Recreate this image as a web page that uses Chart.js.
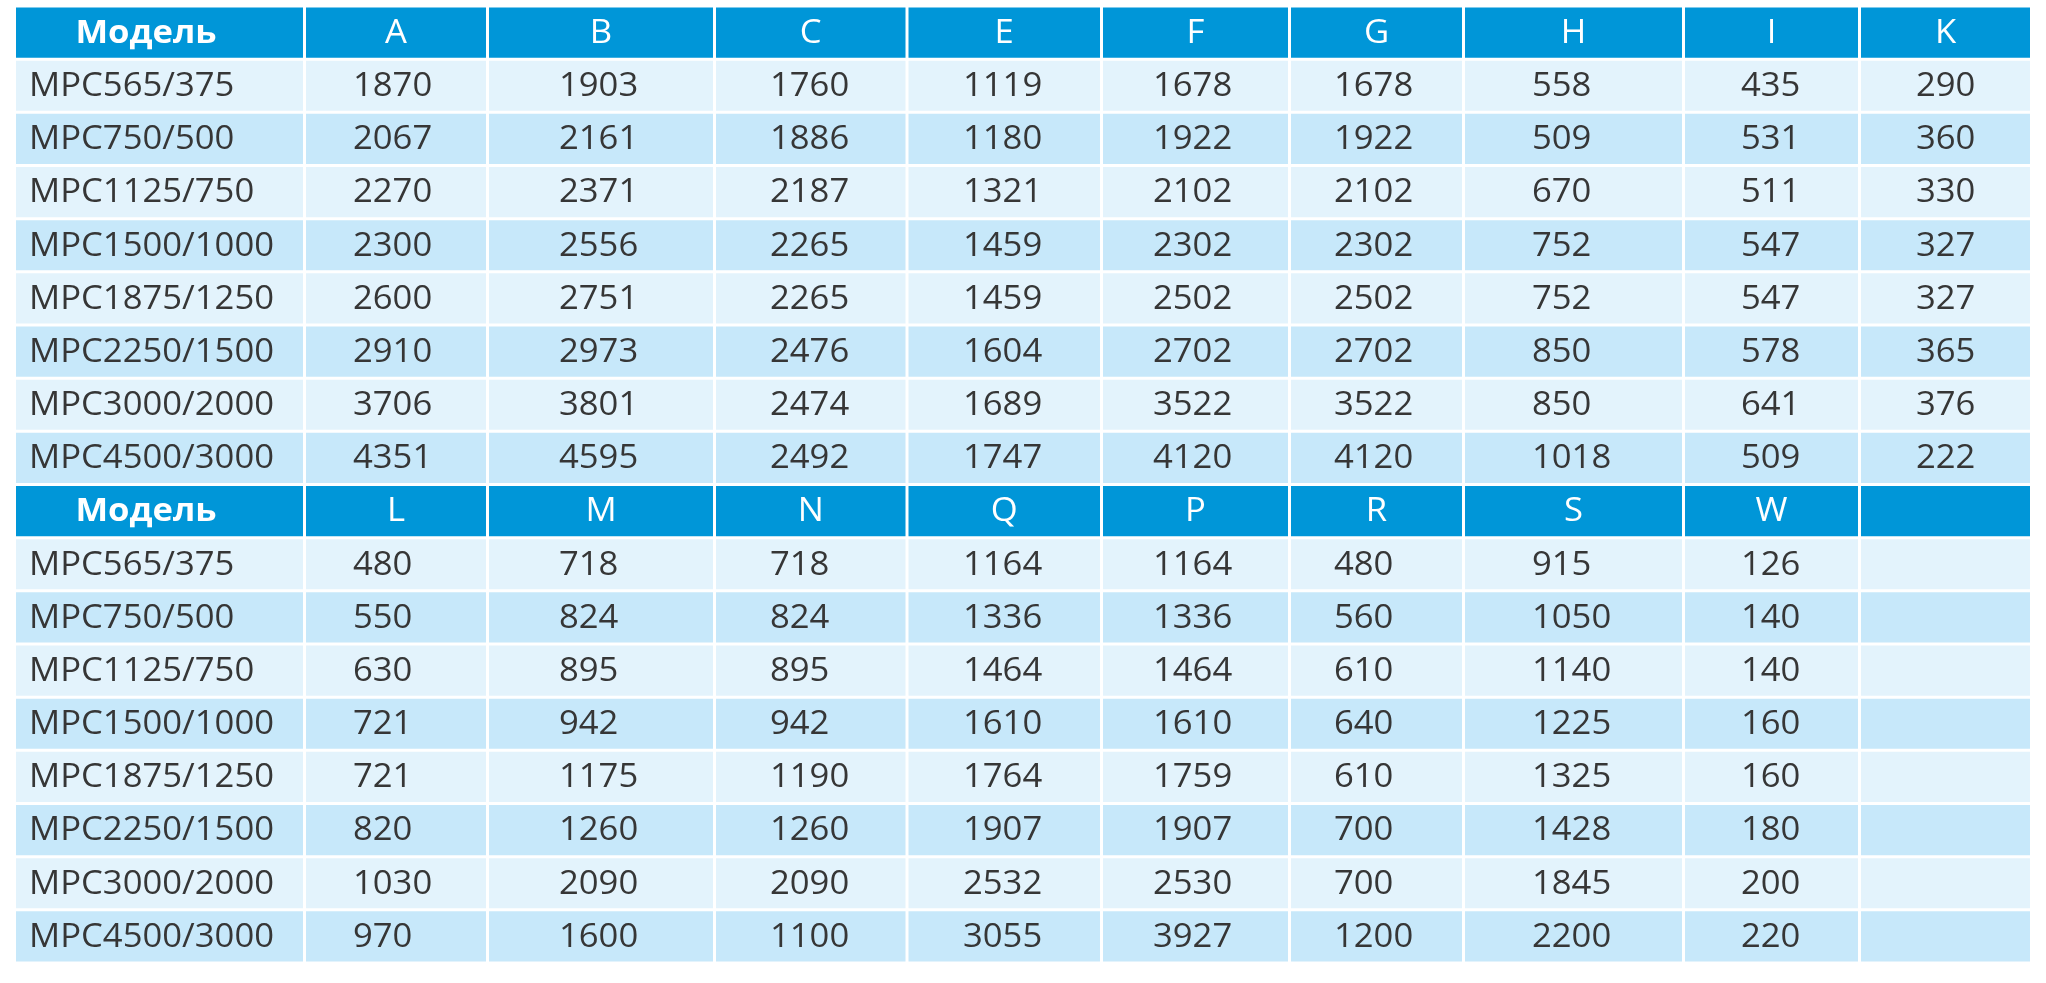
<!DOCTYPE html>
<html>
<head>
<meta charset="utf-8">
<title>MPC</title>
<script src="https://cdn.jsdelivr.net/npm/chart.js@4/dist/chart.umd.min.js"></script>
<style>
  html, body { margin: 0; padding: 0; background: #ffffff; }
  #wrap { width: 2046px; height: 983px; position: relative; }
</style>
</head>
<body>
<div id="wrap"><canvas id="table"></canvas></div>
<script>
// table data
const models = ["MPC565/375", "MPC750/500", "MPC1125/750", "MPC1500/1000",
                "MPC1875/1250", "MPC2250/1500", "MPC3000/2000", "MPC4500/3000"];
const headTitle = "Модель";
const heads1 = ["A", "B", "C", "E", "F", "G", "H", "I", "K"];
const heads2 = ["L", "M", "N", "Q", "P", "R", "S", "W", ""];

const colA = [1870, 2067, 2270, 2300, 2600, 2910, 3706, 4351];
const colB = [1903, 2161, 2371, 2556, 2751, 2973, 3801, 4595];
const colC = [1760, 1886, 2187, 2265, 2265, 2476, 2474, 2492];
const colE = [1119, 1180, 1321, 1459, 1459, 1604, 1689, 1747];
const colF = [1678, 1922, 2102, 2302, 2502, 2702, 3522, 4120];
const colG = [1678, 1922, 2102, 2302, 2502, 2702, 3522, 4120];
const colH = [558, 509, 670, 752, 752, 850, 850, 1018];
const colI = [435, 531, 511, 547, 547, 578, 641, 509];
const colK = [290, 360, 330, 327, 327, 365, 376, 222];

const colL = [480, 550, 630, 721, 721, 820, 1030, 970];
const colM = [718, 824, 895, 942, 1175, 1260, 2090, 1600];
const colN = [718, 824, 895, 942, 1190, 1260, 2090, 1100];
const colQ = [1164, 1336, 1464, 1610, 1764, 1907, 2532, 3055];
const colP = [1164, 1336, 1464, 1610, 1759, 1907, 2530, 3927];
const colR = [480, 560, 610, 640, 610, 700, 700, 1200];
const colS = [915, 1050, 1140, 1225, 1325, 1428, 1845, 2200];
const colW = [126, 140, 140, 160, 160, 180, 200, 220];
const colEmpty = [null, null, null, null, null, null, null, null];

const part1 = [colA, colB, colC, colE, colF, colG, colH, colI, colK];
const part2 = [colL, colM, colN, colQ, colP, colR, colS, colW, colEmpty];

// layout (x in canvas px, the x scale runs 0..2046)
const colEdges = [14.5, 304.5, 487.5, 714.5, 907, 1101.5, 1289.5, 1463.5, 1683.5, 1859.5, 2031.5];
const textLeft = [29, 353, 559, 770, 963, 1153, 1334, 1532, 1741, 1916];
const titleCenter = 146;
const gap = 1.5;
const fontPx = 33;
const stretchX = 1.05;

const headBlue = "#0096d8";
const rowLight = "#e3f3fc";
const rowDark = "#c7e8fa";
const textDark = "#363636";

// rows: header, 8 models, header, 8 models
const rowLabels = [headTitle, ...models, headTitle, ...models];
const rowColors = rowLabels.map((_, i) => {
    const r = i % 9;
    if (r === 0) return headBlue;
    return r % 2 === 1 ? rowLight : rowDark;
});

// cell texts per column
function cellTexts(c) {
    if (c === 0) return [headTitle, ...models, headTitle, ...models];
    const p1 = part1[c - 1], p2 = part2[c - 1];
    return [heads1[c - 1], ...p1.map(v => v == null ? "" : String(v)),
            heads2[c - 1], ...p2.map(v => v == null ? "" : String(v))];
}

const datasets = colEdges.slice(0, -1).map((x0, c) => ({
    label: c === 0 ? headTitle : heads1[c - 1],
    data: rowLabels.map(() => [x0 + gap, colEdges[c + 1] - gap]),
    backgroundColor: rowColors,
    borderWidth: 0,
    grouped: false,
    barPercentage: 0.943,
    categoryPercentage: 1,
    texts: cellTexts(c),
}));

function drawText(ctx, txt, x, y) {
    ctx.save();
    ctx.translate(x, y);
    ctx.scale(stretchX, 1);
    ctx.fillText(txt, 0, 0);
    ctx.restore();
}

const cellText = {
    id: "cellText",
    afterDatasetsDraw(chart) {
        const ctx = chart.ctx;
        const xs = chart.scales.x;
        ctx.save();
        ctx.textBaseline = "middle";
        chart.data.datasets.forEach((ds, c) => {
            const meta = chart.getDatasetMeta(c);
            meta.data.forEach((bar, r) => {
                const txt = ds.texts[r];
                if (!txt) return;
                const isHead = r % 9 === 0;
                if (isHead) {
                    ctx.fillStyle = "#ffffff";
                    ctx.textAlign = "center";
                    if (c === 0) {
                        ctx.font = "bold " + fontPx + "px 'Open Sans'";
                        drawText(ctx, txt, xs.getPixelForValue(titleCenter), bar.y + 1);
                    } else {
                        ctx.font = fontPx + "px 'Open Sans'";
                        drawText(ctx, txt, (bar.x + bar.base) / 2, bar.y + 1);
                    }
                } else {
                    ctx.fillStyle = textDark;
                    ctx.textAlign = "left";
                    ctx.font = fontPx + "px 'Open Sans'";
                    drawText(ctx, txt, xs.getPixelForValue(textLeft[c]), bar.y + 1);
                }
            });
        });
        ctx.restore();
    },
};

new Chart(document.getElementById("table").getContext("2d"), {
    type: "bar",
    data: { labels: rowLabels, datasets: datasets },
    options: {
        indexAxis: "y",
        responsive: true,
        maintainAspectRatio: false,
        animation: false,
        events: [],
        layout: { padding: { top: 6, bottom: 20, left: 0, right: 0 } },
        scales: {
            x: { type: "linear", min: 0, max: 2046, display: false },
            y: { type: "category", display: false, offset: true },
        },
        plugins: {
            legend: { display: false },
            tooltip: { enabled: false },
        },
    },
    plugins: [cellText],
});
</script>
</body>
</html>
